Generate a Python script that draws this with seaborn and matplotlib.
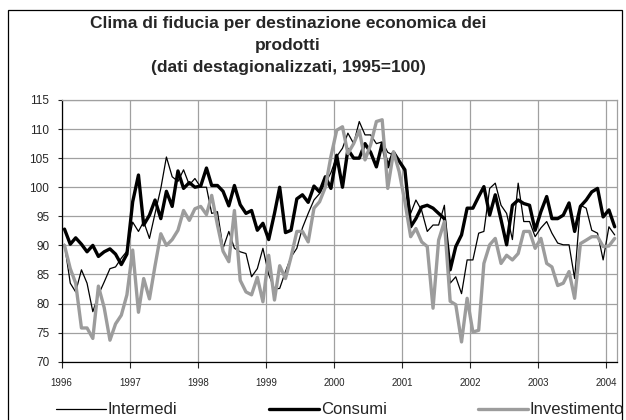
import numpy as np
import pandas as pd
import seaborn as sns
import matplotlib.pyplot as plt
from matplotlib.patches import Rectangle

# monthly data, Jan 1996 - Feb 2004 (1995=100)
mesi = pd.date_range("1996-01-01", periods=98, freq="MS") + pd.Timedelta(days=15)

intermedi = [
    90.2, 83.5, 82.0, 85.8, 83.5, 78.6, 81.5, 83.7, 86.0, 86.3, 87.8, 89.0,
    94.0, 92.4, 94.1, 91.2, 95.5, 99.8, 105.2, 101.8, 101.0, 103.0, 100.4, 101.5,
    100.0, 100.0, 95.5, 95.8, 89.5, 92.4, 89.5, 88.9, 88.6, 84.6, 86.0, 89.5,
    85.0, 82.5, 82.6, 85.5, 88.0, 89.5, 93.0, 95.5, 97.8, 98.9, 100.7, 102.5,
    105.3, 106.7, 109.3, 107.5, 111.3, 109.0, 109.0, 107.5, 107.8, 106.0, 105.5, 104.5,
    102.7, 95.5, 97.8, 96.0, 92.4, 93.5, 93.5, 96.9, 83.5, 84.6, 81.7, 87.5,
    87.5, 92.1, 92.4, 99.8, 100.7, 96.9, 95.5, 91.0, 100.7, 94.1, 94.1, 91.5,
    93.0, 94.1, 92.1, 90.4, 90.1, 90.1, 84.3, 96.9, 96.4, 92.6, 92.1, 87.5,
    93.2, 91.8,
]
consumi = [
    92.8, 90.2, 91.3, 90.2, 88.9, 90.0, 88.1, 88.9, 89.4, 88.5, 86.7, 88.5,
    97.5, 102.1, 93.5, 95.2, 97.8, 94.6, 99.3, 96.7, 102.8, 99.8, 100.8, 100.0,
    100.2, 103.3, 100.3, 100.3, 99.3, 96.8, 100.3, 97.0, 95.5, 96.0, 92.6, 93.8,
    91.0, 95.5, 100.0, 92.2, 92.6, 98.0, 98.7, 97.4, 100.2, 99.2, 101.8, 99.8,
    105.5, 100.0, 106.5, 105.0, 105.0, 107.5, 106.0, 103.5, 107.5, 103.5, 106.0, 104.5,
    103.0, 93.2, 94.6, 96.6, 96.9, 96.4, 95.5, 94.6, 85.8, 89.8, 91.8, 96.4,
    96.4, 98.4, 100.1, 95.2, 98.7, 94.4, 90.1, 96.9, 97.8, 97.2, 96.9, 92.6,
    95.8, 98.4, 94.6, 94.6, 95.2, 97.3, 92.4, 96.7, 97.8, 99.2, 99.8, 94.9,
    96.1, 93.2,
]
investimento = [
    90.0, 86.0, 83.5, 75.8, 75.8, 74.0, 83.0, 79.3, 73.7, 76.5, 78.0, 81.5,
    89.2, 78.5, 84.3, 80.8, 86.5, 92.0, 90.0, 91.0, 92.6, 96.0, 94.3, 96.3,
    96.7, 95.3, 98.6, 93.5, 89.0, 87.2, 96.0, 84.0, 82.0, 81.5, 84.5, 80.3,
    88.3, 80.6, 86.5, 84.3, 88.0, 92.4, 92.4, 90.6, 96.4, 97.5, 100.0, 105.3,
    109.8, 110.4, 105.8, 107.5, 109.8, 104.7, 107.3, 111.3, 111.6, 99.8, 106.1, 102.7,
    97.5, 91.5, 92.9, 90.6, 89.8, 79.2, 90.9, 94.1, 80.4, 79.8, 73.4, 80.9,
    75.1, 75.4, 86.9, 90.1, 91.2, 86.9, 88.3, 87.5, 88.6, 92.4, 92.4, 89.5,
    91.2, 86.9, 86.3, 83.1, 83.5, 85.5, 80.9, 90.3, 90.9, 91.5, 91.5, 89.8,
    89.9, 91.2,
]
anni = [1996, 1997, 1998, 1999, 2000, 2001, 2002, 2003, 2004]
y_ticks = [70, 75, 80, 85, 90, 95, 100, 105, 110, 115]

df = pd.DataFrame({"mese": mesi, "Intermedi": intermedi,
                   "Consumi": consumi, "Investimento": investimento})

sns.set_style("white")
plt.rcParams["font.family"] = ["Liberation Sans", "DejaVu Sans"]

W, H = 626, 420
fig = plt.figure(figsize=(W / 100, H / 100), dpi=100)
ax = fig.add_axes([61.7 / W, 1 - 361.7 / H, (617.3 - 61.7) / W, (361.7 - 100) / H])

grid_col = "#a0a0a0"
gray = "#9c9c9c"
sns.lineplot(data=df, x="mese", y="Intermedi", ax=ax, color="black", lw=0.9, label="Intermedi")
sns.lineplot(data=df, x="mese", y="Consumi", ax=ax, color="black", lw=2.4, label="Consumi")
sns.lineplot(data=df, x="mese", y="Investimento", ax=ax, color=gray, lw=2.4, label="Investimento")

ax.set_xlim(pd.Timestamp("1996-01-01"), pd.Timestamp("2004-03-01"))
ax.set_ylim(70, 115)
ax.set_yticks(y_ticks)
ax.set_xticks([pd.Timestamp(f"{a}-01-01") for a in anni])
ax.set_xticklabels([str(a) for a in anni], fontsize=7)
ax.tick_params(axis="y", labelsize=8.5, length=3, width=0.8, direction="out", pad=6, left=True)
ax.tick_params(axis="x", length=4, width=0.8, direction="out", pad=8, bottom=True)
ax.set_xlabel("")
ax.set_ylabel("")
ax.grid(True, color=grid_col, lw=0.9)
ax.set_axisbelow(True)
for s in ["top", "right"]:
    ax.spines[s].set_color(grid_col)
    ax.spines[s].set_linewidth(0.9)
for s in ["left", "bottom"]:
    ax.spines[s].set_color("black")
    ax.spines[s].set_linewidth(0.9)

handles, labels = ax.get_legend_handles_labels()
ax.get_legend().remove()
fig.legend(handles, labels, loc="center left", bbox_to_anchor=(56 / W, 1 - 410 / H),
           ncol=3, frameon=False, fontsize=12, handlelength=3.0, handletextpad=0.1,
           columnspacing=5.5, borderpad=0, borderaxespad=0)

fig.text(288 / W, 1 - 45.5 / H,
         "Clima di fiducia per destinazione economica dei\nprodotti\n(dati destagionalizzati, 1995=100)",
         ha="center", va="center", fontsize=12.5, fontweight="bold", linespacing=1.6)

fig.add_artist(Rectangle((8 / W, -0.05), 614 / W, 1.05 - 10 / H, transform=fig.transFigure,
                         fill=False, ec="black", lw=0.9))

fig.savefig("out.png", dpi=100)
